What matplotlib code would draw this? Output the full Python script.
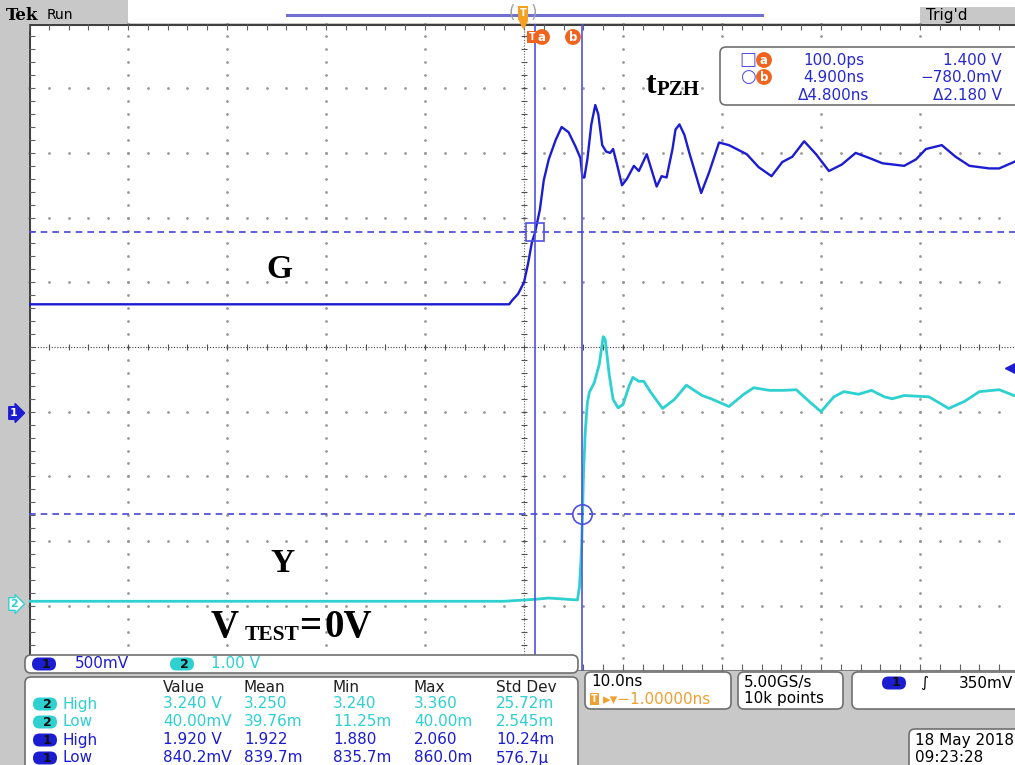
import numpy as np
import matplotlib.pyplot as plt
from matplotlib.patches import FancyBboxPatch, Rectangle

# scope settings
ch1_scale = 0.5      # V/div
ch2_scale = 1.0      # V/div
ch1_pos = -1.02      # div
ch2_pos = -3.97      # div
t_left, t_right = -51, 49   # ns, 10 ns/div, center -1 ns

# channel 1 (G), time in ns, volts
g_t = [-51, -2.5, -2.2, -1.6, -1.0, -0.6, -0.2, 0.1, 0.6, 1.0, 1.5, 2.2, 2.8, 3.5, 4.2,
       4.7, 4.9, 5.1, 5.4, 5.8, 6.2, 6.5, 6.9, 7.3, 7.7, 8.0, 8.4, 8.9, 9.4, 10.1,
       10.6, 11.4, 12.4, 12.9, 13.4, 14.0, 14.3, 14.7, 15.2, 15.7, 16.9, 17.7, 18.7,
       19.7, 21.5, 22.7, 24.0, 25.1, 26.1, 27.3, 28.5, 29.8, 31.1, 32.5, 33.9, 35.2,
       37.4, 38.6, 39.6, 41.2, 42.6, 44.0, 46.0, 47.0, 48.5, 49]
g_v = [0.84, 0.84, 0.87, 0.92, 1.01, 1.15, 1.32, 1.39, 1.57, 1.80, 1.96, 2.11, 2.21, 2.17, 2.06,
       1.97, 1.82, 1.82, 1.96, 2.23, 2.38, 2.31, 2.07, 2.02, 2.01, 2.04, 1.92, 1.76, 1.81, 1.91,
       1.87, 2.00, 1.75, 1.83, 1.82, 2.04, 2.19, 2.23, 2.15, 2.01, 1.70, 1.86, 2.09,
       2.07, 2.00, 1.90, 1.83, 1.94, 1.98, 2.10, 2.00, 1.87, 1.92, 2.01, 1.97, 1.93,
       1.91, 1.96, 2.04, 2.07, 1.98, 1.91, 1.89, 1.89, 1.94, 1.96]

# channel 2 (Y)
y_t = [-51, -3.0, 0.1, 1.5, 4.4, 4.6, 4.8, 4.9, 5.0, 5.1, 5.2, 5.4, 5.6, 6.1, 6.6,
       7.0, 7.2, 7.6, 8.0, 8.5, 9.0, 9.6, 10.0, 10.6, 11.1, 11.8, 13.0, 14.2, 15.4, 16.4,
       17.0, 17.9, 19.7, 21.2, 22.2, 23.8, 25.3, 26.5, 27.8, 29.0, 30.3, 31.3, 32.8, 34.1,
       35.4, 36.2, 37.4, 39.9, 41.9, 43.5, 45.0, 47.0, 48.5, 49]
y_v = [0.04, 0.04, 0.07, 0.09, 0.06, 0.26, 0.79, 1.30, 1.97, 2.34, 2.69, 3.11, 3.27, 3.42, 3.70,
       4.13, 4.09, 3.55, 3.16, 3.03, 3.08, 3.36, 3.50, 3.44, 3.44, 3.27, 3.02, 3.16, 3.38, 3.28,
       3.22, 3.17, 3.05, 3.24, 3.34, 3.30, 3.30, 3.31, 3.13, 2.97, 3.20, 3.28, 3.24, 3.30,
       3.20, 3.17, 3.22, 3.20, 3.02, 3.13, 3.28, 3.31, 3.22, 3.22]

# cursors and trigger
cur_t = [0.1, 4.9]        # ns
cur_v = [1.400, -0.780]   # V on ch1
trig_level = 0.35         # V on ch1

# readouts
cursor_rows = [("100.0ps", "1.400 V"), ("4.900ns", "\u2212780.0mV"), ("\u03944.800ns", "\u03942.180 V")]
meas_head = ["Value", "Mean", "Min", "Max", "Std Dev"]
meas_ch = ["2", "2", "1", "1"]
meas_name = ["High", "Low", "High", "Low"]
meas_rows = [["3.240 V", "3.250", "3.240", "3.360", "25.72m"],
             ["40.00mV", "39.76m", "11.25m", "40.00m", "2.545m"],
             ["1.920 V", "1.922", "1.880", "2.060", "10.24m"],
             ["840.2mV", "839.7m", "835.7m", "860.0m", "576.7\u00b5"]]

C1 = "#1c1cd0"
C2 = "#2ed0d0"
CUR = "#5050e0"
ORANGE = "#f0641e"
TORANGE = "#f0a030"
GRAY = "#c8c8c8"
W, H = 1015, 765

fig = plt.figure(figsize=(W / 100, H / 100), dpi=100)
fig.patch.set_facecolor(GRAY)

# graticule axes (x in ns, y in divisions)
sc = fig.add_axes([29 / W, 1 - 670.5 / H, 990 / W, 647 / H], zorder=1)
sc.set_xlim(t_left, t_right)
sc.set_ylim(-5, 5)
sc.set_facecolor("white")
for s in sc.spines.values():
    s.set_visible(False)
sc.set_xticks([])
sc.set_yticks([])

dot = dict(ls="none", marker="o", ms=1.0, color="#9a9a9a", clip_on=False)
ydots = np.arange(-5, 5.01, 0.2)
tdots = np.arange(t_left, t_right + 0.01, 2)
for k in range(1, 10):
    tk = t_left + 10 * k
    if k != 5:
        sc.plot(np.full_like(ydots, tk), ydots, **dot)
for d in range(-4, 5):
    if d != 0:
        sc.plot(tdots, np.full_like(tdots, d), **dot)
# center cross
sc.axhline(0, color="#404040", lw=0.8, ls=(0, (1, 1.5)))
sc.plot(tdots, np.zeros_like(tdots), ls="none", marker="|", ms=5, mew=0.8, color="#505050")
sc.axvline(-1, color="#606060", lw=0.8, ls=(0, (1, 1.5)))
sc.plot(np.full_like(ydots, -1), ydots, ls="none", marker="_", ms=5, mew=0.8, color="#505050")
# border
sc.axhline(5, color="#404040", lw=2.2)
sc.axhline(-5, color="#808080", lw=1.5)
sc.axvline(t_left, color="#404040", lw=2.2)
sc.plot(tdots, np.full_like(tdots, 4.95), ls="none", marker="|", ms=4, mew=0.8, color="#606060")
sc.plot(tdots, np.full_like(tdots, -4.95), ls="none", marker="|", ms=4, mew=0.8, color="#606060")
sc.plot(np.full_like(ydots, t_left + 0.3), ydots, ls="none", marker="_", ms=4, mew=0.8, color="#606060")

# waveforms
sc.plot(y_t, np.array(y_v) / ch2_scale + ch2_pos, color=C2, lw=2.0, zorder=4)
sc.plot(g_t, np.array(g_v) / ch1_scale + ch1_pos, color=C1, lw=1.7, zorder=5)

# cursors
for t in cur_t:
    sc.axvline(t, color=CUR, lw=1.2, zorder=6)
cur_div = [v / ch1_scale + ch1_pos for v in cur_v]
for d in cur_div:
    sc.axhline(d, color="#4646d6", lw=1.2, ls=(0, (4, 3)), zorder=6)
sc.plot(cur_t[0], cur_div[0], marker="s", ms=13, mfc="none", mec=CUR, mew=1.2, zorder=7)
sc.plot(cur_t[1], cur_div[1], marker="o", ms=14, mfc="none", mec=CUR, mew=1.2, zorder=7)
sc.plot(48.2, trig_level / ch1_scale + ch1_pos, marker="<", ms=9, color=C1, clip_on=False, zorder=7)

# overlay in pixel coordinates
ov = fig.add_axes([0, 0, 1, 1], zorder=5)
ov.set_xlim(0, W)
ov.set_ylim(H, 0)
ov.axis("off")
ov.patch.set_alpha(0)

def box(x, y, w, h, r=6, fc="white", ec="#707070"):
    ov.add_patch(FancyBboxPatch((x, y), w, h, boxstyle=f"round,pad=0,rounding_size={r}",
                                fc=fc, ec=ec, lw=1.2))

def pill(xc, yc, num, fc, w=24, h=13):
    ov.add_patch(FancyBboxPatch((xc - w / 2, yc - h / 2), w, h,
                                boxstyle=f"round,pad=0,rounding_size={h / 2}", fc=fc, ec="none"))
    ov.text(xc + 2, yc, num, color="#101010", fontsize=9, fontweight="bold", ha="center", va="center")

ui = dict(family="DejaVu Sans", fontsize=11)

# top bar
ov.add_patch(Rectangle((128, 0), 892, 23, fc="white", ec="none"))
ov.add_patch(Rectangle((920, 7), 95, 16, fc=GRAY, ec="none"))
ov.text(6, 15, "Tek", family="DejaVu Serif", fontweight="bold", fontsize=12, va="center")
ov.text(47, 15, "Run", va="center", family="DejaVu Sans", fontsize=10)
ov.text(926, 15, "Trig'd", va="center", family="DejaVu Sans", fontsize=11)
ov.plot([287, 762], [15, 15], color="#7070d0", lw=2.2)
ov.text(512, 13, "(", color="#a0a0a0", fontsize=12, va="center", ha="center")
ov.text(534, 13, ")", color="#a0a0a0", fontsize=12, va="center", ha="center")
ov.text(523, 13, "T", color="white", fontsize=7, fontweight="bold", ha="center", va="center",
        bbox=dict(boxstyle="square,pad=0.2", fc="#f5a020", ec="none"))
ov.plot(523, 24, marker="v", ms=6, color="#f5a020")

# cursor tags
ov.text(532, 37, "T", color="white", fontsize=7, fontweight="bold", ha="center", va="center",
        bbox=dict(boxstyle="square,pad=0.15", fc=ORANGE, ec="none"))
for x, s in [(542, "a"), (573, "b")]:
    ov.text(x, 37, s, color="white", fontsize=8.5, fontweight="bold", ha="center", va="center",
            bbox=dict(boxstyle="circle,pad=0.12", fc=ORANGE, ec="none"))

# channel ground markers
ov.text(14, 413, "1", color="white", fontsize=8, fontweight="bold", ha="center", va="center",
        bbox=dict(boxstyle="rarrow,pad=0.12", fc=C1, ec=C1))
ov.text(14, 604, "2", color=C2, fontsize=8, fontweight="bold", ha="center", va="center",
        bbox=dict(boxstyle="rarrow,pad=0.12", fc="white", ec=C2))

# cursor readout box
box(720, 47, 310, 58)
ov.text(748, 60, "\u25a1", color=CUR, fontsize=13, ha="center", va="center")
ov.text(748, 77, "\u25cb", color=CUR, fontsize=13, ha="center", va="center")
for y, s in [(60, "a"), (77, "b")]:
    ov.text(764, y, s, color="white", fontsize=8.5, fontweight="bold", ha="center", va="center",
            bbox=dict(boxstyle="circle,pad=0.12", fc=ORANGE, ec="none"))
for i, (tv, vv) in enumerate(cursor_rows):
    y = 60 + 17.5 * i
    ov.text(834, y, tv, color="#2828d0", ha="center", va="center", **ui)
    ov.text(1002, y, vv, color="#2828d0", ha="right", va="center", **ui)

# labels
serif = dict(family="Liberation Serif", fontweight="bold", color="black")
ov.text(279, 278, "G", ha="center", va="baseline", fontsize=24, **serif)
ov.text(282, 572, "Y", ha="center", va="baseline", fontsize=24, **serif)
ov.text(211, 637, "V", ha="left", va="baseline", fontsize=28, **serif)
ov.text(245, 640, "TEST", ha="left", va="baseline", fontsize=15.5, **serif)
ov.text(299, 637, "=", ha="left", va="baseline", fontsize=28, **serif)
ov.text(325, 637, "0V", ha="left", va="baseline", fontsize=28, **serif)
ov.text(646, 93, "t", ha="left", va="baseline", fontsize=23, **serif)
ov.text(657, 95, "PZH", ha="left", va="baseline", fontsize=15, **serif)

# bottom panels
box(25, 655, 553, 18)
pill(44, 664, "1", C1)
ov.text(75, 664, "500mV", color=C1, va="center", **ui)
pill(182, 664, "2", C2)
ov.text(211, 664, "1.00 V", color=C2, va="center", **ui)

box(25, 677, 553, 100)
head_x = [163, 244, 333, 414, 496]
for x, s in zip(head_x, meas_head):
    ov.text(x, 687, s, color="#202020", va="center", **ui)
for i in range(4):
    y = 704 + 18 * i
    col = C2 if meas_ch[i] == "2" else C1
    pill(45, y, meas_ch[i], col)
    ov.text(63, y, meas_name[i], color=col, va="center", **ui)
    for x, s in zip(head_x, meas_rows[i]):
        ov.text(x, y, s, color=col, va="center", **ui)

box(585, 672, 146, 37)
ov.text(591, 682, "10.0ns", color="black", va="center", **ui)
ov.text(591, 699, "T", color="white", fontsize=7, fontweight="bold", va="center",
        bbox=dict(boxstyle="square,pad=0.1", fc=TORANGE, ec="none"))
ov.text(603, 699, "\u25b8\u25be\u22121.00000ns", color=TORANGE, va="center", **ui)
box(738, 672, 105, 37)
ov.text(744, 682, "5.00GS/s", color="black", va="center", **ui)
ov.text(744, 699, "10k points", color="black", va="center", **ui)
box(852, 672, 180, 37)
pill(894, 683, "1", C1)
ov.text(920, 683, "\u222b", color="black", fontsize=11, va="center")
ov.text(1013, 683, "350mV", color="black", ha="right", va="center", **ui)
box(909, 729, 120, 45)
ov.text(915, 741, "18 May 2018", color="black", va="center", **ui)
ov.text(915, 757, "09:23:28", color="black", va="center", **ui)

fig.savefig("out.png", dpi=100, facecolor=fig.get_facecolor())
